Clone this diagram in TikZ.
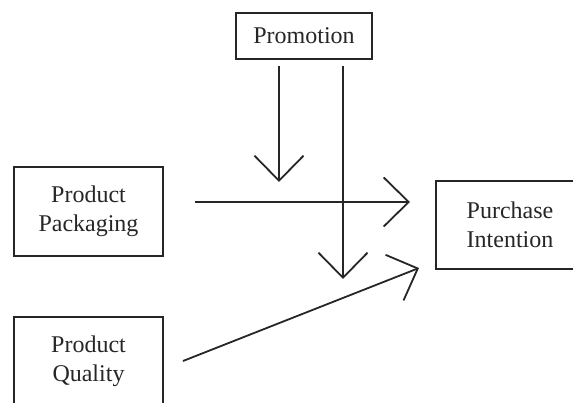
\documentclass[tikz,border=0pt]{standalone}
\usepackage{fontspec}
\setmainfont{Liberation Serif}
\usetikzlibrary{arrows.meta}
\begin{document}
\begin{tikzpicture}[x=1pt,y=-1pt,
  box/.style={draw=black!85, line width=1.8pt, rectangle, align=center, inner sep=0pt,
    font=\fontsize{24}{29}\selectfont, text=black!85},
  conn/.style={draw=black!85, line width=1.8pt, -{Straight Barb[length=25pt,width=49pt,line width=1.8pt]}}]
\useasboundingbox (0,0) rectangle (573,403);
\node[box, minimum width=136pt, minimum height=46pt] (prom) at (304,36) {Promotion};
\node[box, minimum width=149pt, minimum height=89pt] (pack) at (88.5,211.5) {Product\\Packaging};
\node[box, minimum width=149pt, minimum height=89pt] (qual) at (88.5,361.5) {Product\\Quality};
\node[box, minimum width=148pt, minimum height=88pt] (pi) at (510,225) {Purchase\\Intention};
\coordinate (p1s) at (279,66);
\coordinate (p1e) at (279,182);
\coordinate (p2s) at (343,66);
\coordinate (p2e) at (343,279);
\coordinate (hs) at (195,202);
\coordinate (he) at (410,202);
\coordinate (ds) at (183,361);
\coordinate (de) at (419,268);
\draw[conn] (p1s) -- (p1e);
\draw[conn] (p2s) -- (p2e);
\draw[conn] (hs) -- (he);
\draw[conn] (ds) -- (de);
\end{tikzpicture}
\end{document}
